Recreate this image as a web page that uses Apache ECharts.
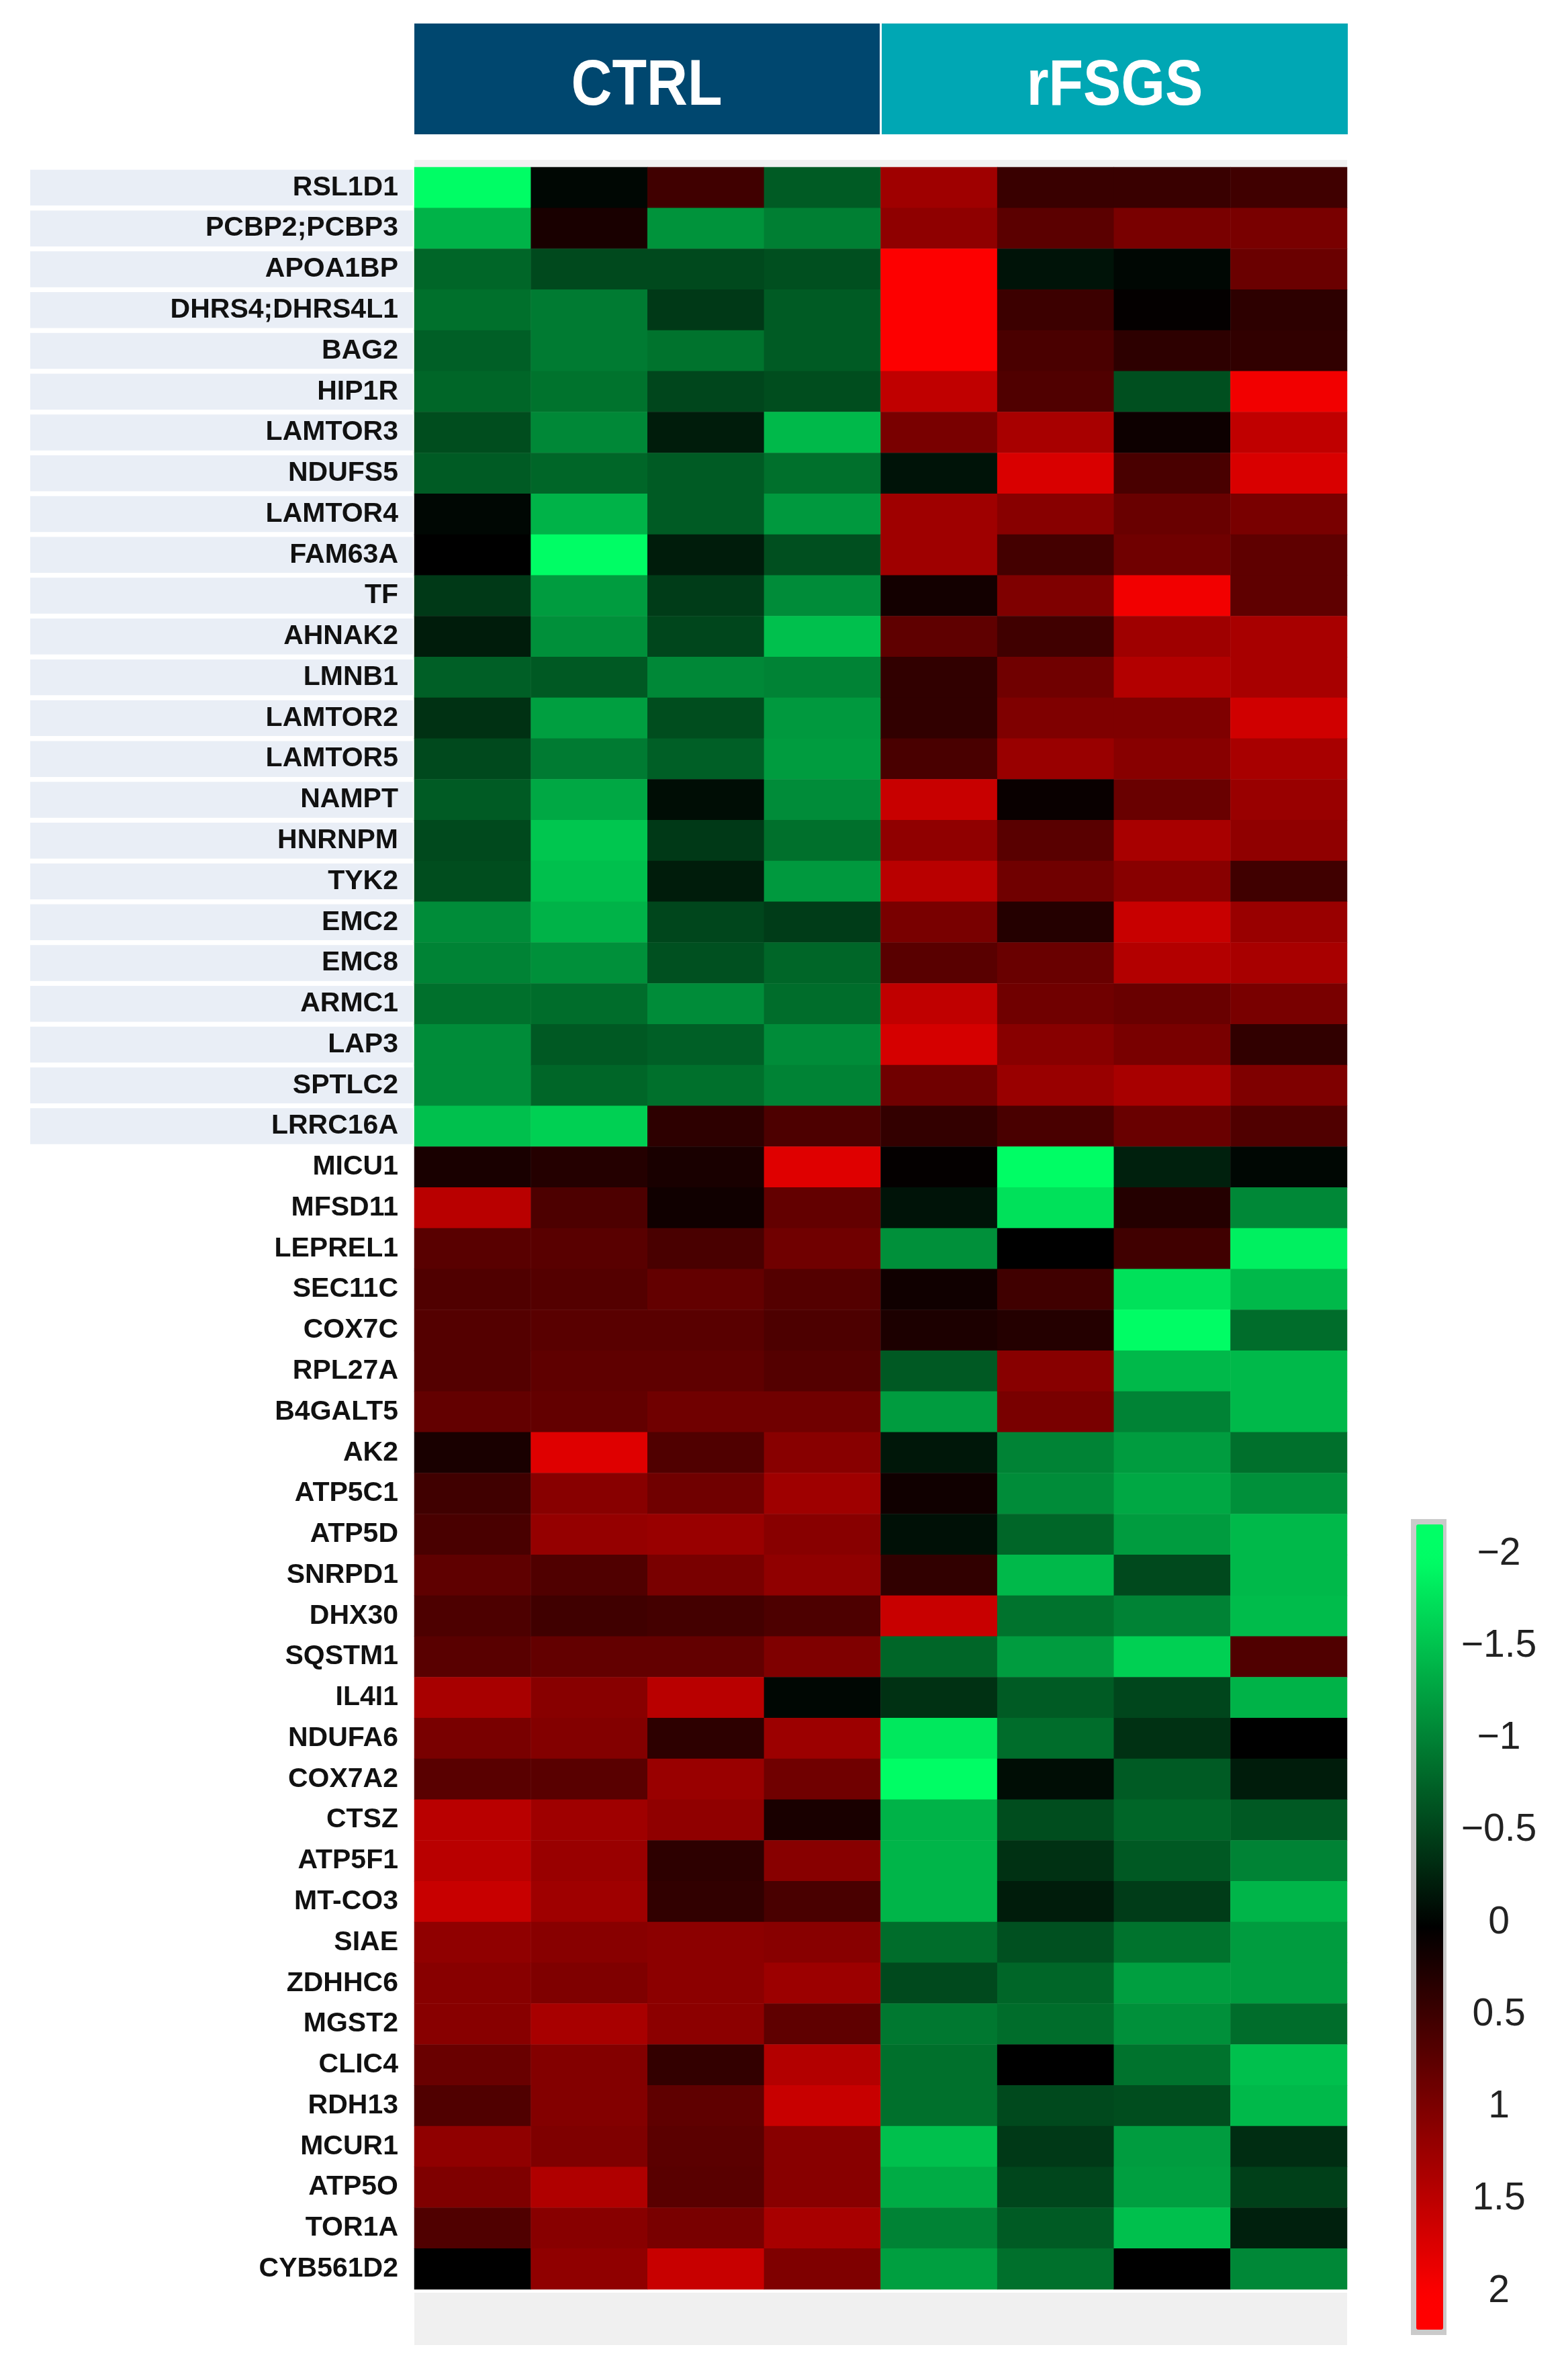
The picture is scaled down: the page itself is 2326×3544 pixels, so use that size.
<!DOCTYPE html>
<html>
<head>
<meta charset="utf-8">
<title>CTRL vs rFSGS heatmap</title>
<script src="https://cdn.jsdelivr.net/npm/echarts@6/dist/echarts.min.js"></script>
<style>
  html, body { margin: 0; background: #fff; }
  #chart { width: 2326px; height: 3544px; }
</style>
</head>
<body>
<div id="chart"></div>
<script>
// 行 = 蛋白，列 = 4 个 CTRL + 4 个 rFSGS 样本；数值为 z-score（-2 绿 … 2 红）。
const genes = [
  'RSL1D1', 'PCBP2;PCBP3', 'APOA1BP', 'DHRS4;DHRS4L1', 'BAG2', 'HIP1R', 'LAMTOR3', 'NDUFS5',
  'LAMTOR4', 'FAM63A', 'TF', 'AHNAK2', 'LMNB1', 'LAMTOR2', 'LAMTOR5', 'NAMPT', 'HNRNPM', 'TYK2',
  'EMC2', 'EMC8', 'ARMC1', 'LAP3', 'SPTLC2', 'LRRC16A', 'MICU1', 'MFSD11', 'LEPREL1', 'SEC11C',
  'COX7C', 'RPL27A', 'B4GALT5', 'AK2', 'ATP5C1', 'ATP5D', 'SNRPD1', 'DHX30', 'SQSTM1', 'IL4I1',
  'NDUFA6', 'COX7A2', 'CTSZ', 'ATP5F1', 'MT-CO3', 'SIAE', 'ZDHHC6', 'MGST2', 'CLIC4', 'RDH13',
  'MCUR1', 'ATP5O', 'TOR1A', 'CYB561D2',
];
const samples = ['CTRL-1', 'CTRL-2', 'CTRL-3', 'CTRL-4', 'rFSGS-1', 'rFSGS-2', 'rFSGS-3', 'rFSGS-4'];
const groups = ['CTRL', 'rFSGS'];
const shadedRows = 24; // 前 24 行标签带浅蓝底

const ctrl1 = [-2.0, -1.4, -0.8, -0.88, -0.75, -0.8, -0.6, -0.72, -0.05, 0.0, -0.45, -0.22, -0.75,
  -0.38, -0.57, -0.72, -0.57, -0.6, -1.1, -1.03, -0.88, -1.1, -1.1, -1.5, 0.2, 1.45, 0.7, 0.63, 0.66,
  0.66, 0.78, 0.2, 0.5, 0.57, 0.75, 0.6, 0.7, 1.32, 0.95, 0.7, 1.45, 1.45, 1.57, 1.13, 1.07, 1.07,
  0.82, 0.63, 1.13, 1.0, 0.63, 0.0];
const ctrl2 = [-0.05, 0.2, -0.57, -0.97, -0.97, -0.9, -1.07, -0.8, -1.4, -2.0, -1.22, -1.13, -0.7,
  -1.25, -0.97, -1.32, -1.55, -1.5, -1.4, -1.13, -0.85, -0.7, -0.8, -1.63, 0.28, 0.6, 0.7, 0.66, 0.7,
  0.75, 0.78, 1.75, 1.07, 1.17, 0.63, 0.5, 0.78, 1.07, 1.03, 0.7, 1.25, 1.2, 1.25, 1.07, 1.0, 1.32,
  1.03, 1.03, 1.0, 1.38, 1.07, 1.13];
const ctrl3 = [0.5, -1.15, -0.57, -0.45, -0.9, -0.55, -0.22, -0.72, -0.72, -0.22, -0.47, -0.55, -1.07,
  -0.6, -0.75, -0.1, -0.45, -0.22, -0.55, -0.63, -1.1, -0.75, -0.88, 0.35, 0.2, 0.12, 0.57, 0.78, 0.7,
  0.75, 0.88, 0.63, 0.88, 1.2, 0.95, 0.53, 0.78, 1.45, 0.35, 1.2, 1.13, 0.35, 0.38, 1.1, 1.1, 1.1,
  0.4, 0.75, 0.72, 0.7, 0.95, 1.57];
const ctrl4 = [-0.72, -1.0, -0.62, -0.72, -0.72, -0.6, -1.45, -0.88, -1.2, -0.62, -1.1, -1.5, -1.03,
  -1.2, -1.22, -1.1, -0.88, -1.2, -0.47, -0.8, -0.85, -1.1, -1.03, 0.6, 1.75, 0.78, 0.88, 0.66, 0.6,
  0.66, 0.88, 1.07, 1.25, 1.07, 1.13, 0.6, 1.0, -0.05, 1.22, 0.88, 0.2, 1.07, 0.57, 1.07, 1.22, 0.75,
  1.4, 1.57, 1.07, 1.07, 1.32, 1.0];
const fsgs1 = [1.25, 1.12, 2.0, 2.0, 2.0, 1.5, 0.95, -0.15, 1.25, 1.25, 0.15, 0.75, 0.38, 0.38, 0.57,
  1.57, 1.13, 1.45, 0.95, 0.7, 1.5, 1.67, 0.88, 0.4, 0.03, -0.15, -1.13, 0.12, 0.22, -0.7, -1.22,
  -0.18, 0.12, -0.12, 0.38, 1.57, -0.8, -0.38, -1.82, -2.0, -1.4, -1.42, -1.42, -0.85, -0.57, -0.94,
  -0.88, -0.88, -1.5, -1.35, -1.03, -1.25];
const fsgs2 = [0.45, 0.72, -0.15, 0.47, 0.58, 0.63, 1.32, 1.7, 1.07, 0.53, 1.0, 0.5, 0.88, 1.0, 1.2,
  0.07, 0.7, 0.88, 0.28, 0.82, 0.88, 1.07, 1.2, 0.57, -2.0, -1.77, 0.0, 0.5, 0.28, 1.07, 0.95, -1.03,
  -1.1, -0.8, -1.45, -0.9, -1.22, -0.72, -0.85, -0.1, -0.6, -0.38, -0.22, -0.63, -0.8, -0.85, 0.0,
  -0.57, -0.45, -0.55, -0.72, -0.88];
const fsgs3 = [0.45, 0.95, -0.05, 0.03, 0.35, -0.62, 0.1, 0.57, 0.82, 0.88, 1.9, 1.25, 1.4, 1.0, 1.07,
  0.82, 1.32, 1.07, 1.57, 1.4, 0.82, 0.95, 1.32, 0.82, -0.25, 0.28, 0.5, -1.77, -2.0, -1.45, -1.03,
  -1.22, -1.32, -1.22, -0.57, -1.03, -1.63, -0.55, -0.38, -0.72, -0.8, -0.7, -0.47, -0.9, -1.25,
  -1.13, -0.9, -0.6, -1.22, -1.25, -1.5, 0.0];
const fsgs4 = [0.5, 0.95, 0.83, 0.35, 0.38, 1.9, 1.5, 1.7, 0.95, 0.75, 0.75, 1.32, 1.32, 1.63, 1.32,
  1.2, 1.13, 0.5, 1.2, 1.32, 0.95, 0.38, 1.0, 0.63, -0.05, -1.07, -1.88, -1.45, -0.85, -1.45, -1.45,
  -0.88, -1.13, -1.45, -1.45, -1.47, 0.63, -1.4, 0.0, -0.22, -0.7, -1.03, -1.42, -1.22, -1.22, -0.85,
  -1.5, -1.45, -0.35, -0.5, -0.25, -1.07];
const columns = [ctrl1, ctrl2, ctrl3, ctrl4, fsgs1, fsgs2, fsgs3, fsgs4];

// ============ 布局 ============
const HM = { left: 617, top: 249, width: 1389, height: 3160 };
const SANS = '"Liberation Sans", Arial, sans-serif';

// 绿(-2) → 黑(0) → 红(2)，±2 之外保持饱和
const VM_MIN = -2.18;
const VM_MAX = 2.18;
function colorAt(v) {
  const t = Math.min(Math.abs(v) / 2, 1);
  if (v < 0) return `rgb(0,${Math.round(255 * t)},${Math.round(102 * t)})`;
  return `rgb(${Math.round(255 * t)},0,0)`;
}
const stops = [];
for (let i = 0; i <= 44; i++) stops.push(colorAt(VM_MIN + (VM_MAX - VM_MIN) * i / 44));

const cells = [];
columns.forEach((col, x) => col.forEach((v, y) => cells.push([x, y, v])));

const fmtTick = (v) => (v < 0 ? '\u2212' + Math.abs(v) : String(v));

// 表头文字略收窄，接近原图的窄体粗字
const headerText = (text, x) => ({
  type: 'text', x, y: 129, scaleX: 0.87, z: 10,
  style: { text, fill: '#fff', font: `bold 97px ${SANS}`, textAlign: 'center', textVerticalAlign: 'middle' },
});

const chart = echarts.init(document.getElementById('chart'));
chart.setOption({
  backgroundColor: '#fff',
  animation: false,
  grid: [
    { left: HM.left, top: HM.top, width: HM.width, height: HM.height },
    { left: 45, top: HM.top, width: 570, height: HM.height },
    { left: 2109, top: 2314, width: 40, height: 1098 },
  ],
  xAxis: [
    { gridIndex: 0, type: 'category', data: samples, show: false },
    { gridIndex: 1, type: 'value', min: 0, max: 1, show: false },
    { gridIndex: 2, type: 'value', show: false },
  ],
  yAxis: [
    {
      gridIndex: 0, type: 'category', data: genes, inverse: true, z: 5,
      axisLine: { show: false }, axisTick: { show: false },
      axisLabel: { fontFamily: SANS, fontWeight: 'bold', fontSize: 41, color: '#111', margin: 24 },
    },
    { gridIndex: 1, type: 'category', data: genes, inverse: true, show: false },
    {
      gridIndex: 2, type: 'value', min: -2, max: 2, interval: 0.5, inverse: true, position: 'right',
      axisLine: { show: false }, axisTick: { show: false }, splitLine: { show: false },
      axisLabel: {
        margin: 83, align: 'center', fontSize: 57, color: '#222',
        fontFamily: SANS, formatter: fmtTick,
      },
    },
  ],
  visualMap: {
    type: 'continuous', seriesIndex: 0, min: VM_MIN, max: VM_MAX, inverse: true,
    orient: 'vertical', left: 2109, top: 2270, itemWidth: 40, itemHeight: 1199,
    padding: 0, calculable: false, inRange: { color: stops },
  },
  graphic: [
    { type: 'rect', shape: { x: 2101, y: 2262, width: 53, height: 1215 }, style: { fill: '#cacaca' }, z: 0 },
    { type: 'rect', shape: { x: 617, y: 238, width: 1389, height: 11 }, style: { fill: '#f1f1f1' } },
    { type: 'rect', shape: { x: 617, y: 3414, width: 1389, height: 78 }, style: { fill: '#f0f0f0' } },
    { type: 'rect', shape: { x: 617, y: 35, width: 693, height: 165 }, style: { fill: '#00476f' } },
    { type: 'rect', shape: { x: 1313, y: 35, width: 694, height: 165 }, style: { fill: '#00a7b4' } },
    headerText(groups[0], 963),
    headerText(groups[1], 1660),
  ],
  series: [
    {
      type: 'heatmap', xAxisIndex: 0, yAxisIndex: 0, data: cells,
      itemStyle: { borderWidth: 0 }, emphasis: { disabled: true },
    },
    {
      type: 'bar', xAxisIndex: 1, yAxisIndex: 1, silent: true, z: 1,
      data: genes.map((g, i) => (i < shadedRows ? 1 : '-')),
      barWidth: '88%', itemStyle: { color: '#e9eef6' },
    },
  ],
});
</script>
</body>
</html>
